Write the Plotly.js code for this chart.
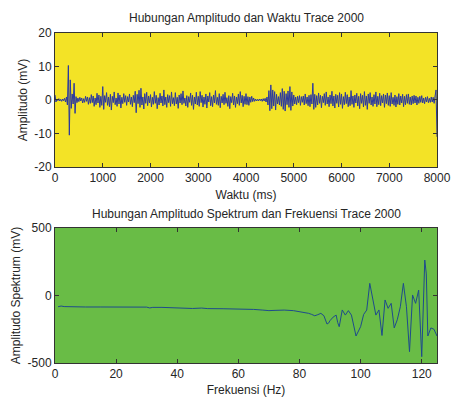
<!DOCTYPE html>
<html>
<head>
<meta charset="utf-8">
<script src="https://cdn.plot.ly/plotly-3.0.1.min.js"></script>
<style>
html,body{margin:0;padding:0;background:#fff;}
#chart{width:452px;height:397px;}
</style>
</head>
<body>
<div id="chart"></div>
<script>
const timeStep = 20;
const amplitude = [
  1.5,-0.6,0.3,-0.2,0.4,-0.3,0.2,-0.4,0.3,-0.2,0.5,-0.6,0.9,-1.5,10.3,-10.5,6.0,-2.5,1.8,-1.2,5.0,-4.0,1.0,-0.8,0.6,
  -0.5,0.8,-0.3,0.6,-0.9,0.4,-0.7,1.1,-0.4,0.9,-1.3,0.7,-1.0,1.6,-0.8,1.2,-1.9,0.6,-1.4,2.0,-0.9,1.5,-2.2,1.1,-1.6,
  4.0,-2.8,1.3,-0.7,2.2,-1.6,0.9,-2.0,1.7,-3.0,1.1,-0.8,2.4,-1.4,0.6,-1.9,2.1,-1.2,1.5,-2.4,0.8,-1.1,1.9,-0.7,1.3,
  -1.6,1.0,-0.6,1.8,-1.3,0.9,-2.0,1.4,-0.8,2.6,-3.8,1.7,-1.1,2.9,-2.2,3.5,-1.5,0.9,-2.7,1.9,-1.0,2.3,-1.7,1.2,-0.9,
  1.6,-2.1,0.8,-1.3,2.5,-1.0,1.4,-2.6,0.7,-1.5,2.0,-0.9,1.2,-1.8,3.0,-1.4,0.9,-2.2,1.6,-0.8,1.3,-1.9,2.4,-1.1,0.7,
  -1.7,2.2,-1.2,0.8,-2.5,1.5,-0.9,1.9,-1.4,2.7,-1.0,0.6,-1.8,1.3,-2.2,1.0,-0.7,2.1,-1.6,1.4,-2.8,0.9,-1.2,2.3,-1.5,
  1.1,-1.9,2.5,-0.8,1.4,-2.1,0.9,-1.3,1.8,-2.4,1.2,-0.6,2.2,-1.7,1.0,-2.0,1.5,-0.9,2.8,-1.3,0.8,-1.6,1.9,-2.3,1.1,
  -0.9,1.7,-1.4,2.3,-1.0,0.7,-1.9,1.3,-2.6,1.0,-0.8,2.0,-1.5,1.2,-2.2,0.9,-1.1,1.8,-1.6,2.5,-0.9,1.4,-2.0,1.1,-1.3,
  1.9,-1.4,1.0,-1.6,0.9,-0.7,1.1,-0.5,0.6,-0.4,0.3,-0.3,0.2,-0.3,0.3,-0.2,0.3,-0.4,0.4,-0.3,0.5,-0.6,0.9,-1.5,2.8,
  -3.2,4.5,-2.6,3.0,-1.8,2.5,-3.0,1.7,-1.2,1.0,-1.5,2.2,-1.9,3.4,-2.8,2.6,-3.3,1.9,-1.4,2.7,-2.2,4.0,-3.1,2.4,-1.8,
  1.5,-1.2,0.9,-1.4,1.1,-0.8,1.3,-1.6,1.0,-0.7,1.2,-1.5,1.8,-1.1,0.9,-1.7,1.4,-2.0,1.6,-1.2,5.0,-2.8,1.7,-2.2,1.3,
  -1.5,2.1,-1.0,1.4,-2.3,1.1,-0.8,1.9,-1.6,2.4,-1.2,0.9,-2.0,1.5,-1.1,2.6,-1.8,1.2,-2.4,1.7,-1.0,1.4,-2.1,2.2,-1.3,
  1.8,-2.5,1.0,-1.4,2.3,-1.1,1.6,-2.0,0.9,-1.7,2.8,-1.3,1.2,-2.2,1.5,-0.9,2.0,-1.8,1.1,-2.6,1.9,-1.0,1.4,-2.1,2.5,
  -1.6,1.2,-2.8,1.8,-1.0,2.2,-1.5,0.9,-1.9,1.6,-1.2,2.4,-2.0,1.1,-1.4,2.0,-1.7,1.3,-0.9,1.8,-2.2,1.5,-1.1,2.1,-1.6,
  1.3,-1.9,2.2,-1.2,0.8,-1.6,1.5,-2.1,1.0,-1.3,1.9,-1.5,1.2,-0.9,1.7,-2.0,1.1,-1.4,1.6,-1.0,1.8,-1.3,0.9,-1.5,1.2,
  -1.1,1.4,-0.9,1.2,-1.5,0.8,-1.0,1.1,-0.7,1.3,-0.9,0.6,-1.1,0.8,-0.6,1.0,-0.8,0.5,-0.7,0.9,-0.6,0.8,-1.0,1.2,3.0,
  -11.0
];
const time = amplitude.map((v, i) => i * timeStep);

// ---- Bottom panel: amplitude spectrum vs frequency ----
const frequency = [1,2,3,5,8,10,15,20,25,30,31,32,35,38,40,45,48,50,55,60,62,65,68,70,72,75,78,80,82,83,84,85,86,87,88,89,89.5,90,91,92,92.5,93,94,95,96,97,98.5,100,101,101.5,102,103,104,105,106,107,108,109,110,111,112,113,114,115,116,117,118,119,120,121,121.5,122,123,124,125];
const spectrum  = [-83,-78,-82,-84,-84,-85,-85,-85,-85,-86,-92,-88,-88,-90,-95,-96,-93,-97,-98,-100,-97,-103,-108,-112,-110,-108,-112,-118,-125,-132,-140,-150,-142,-132,-150,-211,-205,-186,-160,-145,-200,-231,-107,-145,-112,-145,-300,-231,-140,-123,-108,90,-33,-145,-107,-296,-33,-95,-58,-240,-180,-83,90,-83,-416,4,-58,40,-453,263,160,-300,-240,-250,-300];

// ---- Tick labels ----
const timeTicks = [0,1000,2000,3000,4000,5000,6000,7000,8000];
const timeTickText = ['0','1000','2000','3000','4000','5000','6000','7000','8000'];
const ampTicks = [-20,-10,0,10,20];
const ampTickText = ['-20','-10','0','10','20'];
const freqTicks = [0,20,40,60,80,100,120];
const freqTickText = ['0','20','40','60','80','100','120'];
const specTicks = [-500,0,500];
const specTickText = ['-500','0','500'];

const fam = 'Liberation Sans, Arial, sans-serif';
const txtColor = '#262626';

const axisCommon = {
  showline: true, linecolor: '#333', linewidth: 1, mirror: 'ticks',
  ticks: 'inside', ticklen: 4, tickcolor: '#333', showgrid: false, zeroline: false,
  ticklabeloverflow: 'allow',
  tickfont: {family: fam, size: 12, color: txtColor}
};

const traces = [
  {x: time, y: amplitude, type: 'scatter', mode: 'lines', xaxis: 'x', yaxis: 'y',
   line: {color: '#2a38a0', width: 1}},
  {x: frequency, y: spectrum, type: 'scatter', mode: 'lines', xaxis: 'x2', yaxis: 'y2',
   line: {color: '#1e4b8c', width: 1}}
];

const layout = {
  width: 452, height: 397,
  margin: {l: 55, r: 15, t: 33, b: 34},
  paper_bgcolor: '#ffffff',
  showlegend: false,
  font: {family: fam, size: 12, color: txtColor},
  shapes: [
    {type: 'rect', xref: 'x domain', yref: 'y domain', x0: 0, x1: 1, y0: 0, y1: 1,
     fillcolor: '#f3e326', line: {width: 0}, layer: 'below'},
    {type: 'rect', xref: 'x2 domain', yref: 'y2 domain', x0: 0, x1: 1, y0: 0, y1: 1,
     fillcolor: '#69bc46', line: {width: 0}, layer: 'below'}
  ],
  xaxis: Object.assign({}, axisCommon, {
    domain: [0, 1], anchor: 'y', range: [0, 8000],
    tickvals: timeTicks, ticktext: timeTickText,
    title: {text: 'Waktu (ms)', font: {family: fam, size: 12, color: txtColor}, standoff: 6}
  }),
  yaxis: Object.assign({}, axisCommon, {
    domain: [0.594, 1], anchor: 'x', range: [-20, 20],
    tickvals: ampTicks, ticktext: ampTickText,
    title: {text: 'Amplitudo (mV)', font: {family: fam, size: 12, color: txtColor}, standoff: 4}
  }),
  xaxis2: Object.assign({}, axisCommon, {
    domain: [0, 1], anchor: 'y2', range: [0, 125],
    tickvals: freqTicks, ticktext: freqTickText,
    title: {text: 'Frekuensi (Hz)', font: {family: fam, size: 12, color: txtColor}, standoff: 9}
  }),
  yaxis2: Object.assign({}, axisCommon, {
    domain: [0, 0.409], anchor: 'x2', range: [-500, 500],
    tickvals: specTicks, ticktext: specTickText,
    title: {text: 'Amplitudo Spektrum (mV)', font: {family: fam, size: 12, color: txtColor}, standoff: 4}
  }),
  annotations: [
    {text: 'Hubungan Amplitudo dan Waktu Trace 2000', xref: 'paper', yref: 'paper',
     x: 0.5, y: 1, yanchor: 'middle', yshift: 15, showarrow: false,
     font: {family: fam, size: 12, color: txtColor}},
    {text: 'Hubungan Amplitudo Spektrum dan Frekuensi Trace 2000', xref: 'paper', yref: 'paper',
     x: 0.5, y: 0.409, yanchor: 'middle', yshift: 14, showarrow: false,
     font: {family: fam, size: 12, color: txtColor}}
  ]
};

Plotly.newPlot('chart', traces, layout, {displayModeBar: false, staticPlot: true});
</script>
</body>
</html>
